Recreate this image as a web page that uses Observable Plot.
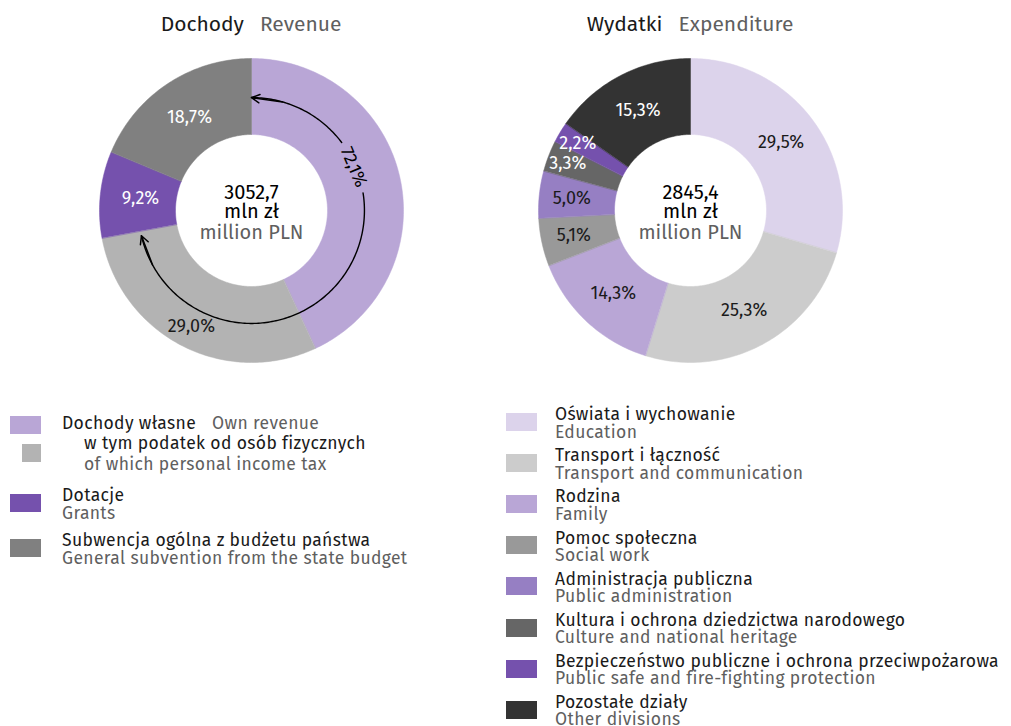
<!DOCTYPE html>
<html><head><meta charset="utf-8">
<script src="https://cdn.jsdelivr.net/npm/d3@7"></script>
<script src="https://cdn.jsdelivr.net/npm/@observablehq/plot@0.6"></script>
<style>
body{margin:0;background:#fff;font-family:"Fira Sans","Open Sans",sans-serif;color:#1a1a1a;}
#root{position:relative;width:1011px;height:726px;overflow:hidden}
.title{position:absolute;top:9px;font-size:21px;white-space:nowrap;transform:translateX(-50%);line-height:30px}
.title .en{color:#5f5f5f;margin-left:16px}
.chart{position:absolute;top:40px}
.sw{position:absolute;height:18px}
.lt{position:absolute;font-size:17.5px;letter-spacing:0.35px;line-height:17.5px;white-space:nowrap}
.en2{color:#5f5f5f}
</style></head><body><div id="root"></div>
<script>
// ---------- DATA ----------
const revenueTitle = ["Dochody", "Revenue"];
const revenueTotal = ["3052,7", "mln zł", "million PLN"];
const revenueCategories = ["Dochody własne (pozostałe)", "w tym podatek od osób fizycznych", "Dotacje", "Subwencja ogólna z budżetu państwa"];
const revenueValues = [43.1, 29.0, 9.2, 18.7];
const revenueLabels = ["", "29,0%", "9,2%", "18,7%"];
const revenueColors = ["#b9a6d6", "#b3b3b3", "#7551ad", "#808080"];
const revenueTextColors = ["#1a1a1a", "#1a1a1a", "#ffffff", "#ffffff"];
const ownRevenueShare = 72.1;
const ownRevenueLabel = "72,1%";

const expenditureTitle = ["Wydatki", "Expenditure"];
const expenditureTotal = ["2845,4", "mln zł", "million PLN"];
const expenditureCategories = ["Oświata i wychowanie", "Transport i łączność", "Rodzina", "Pomoc społeczna", "Administracja publiczna", "Kultura i ochrona dziedzictwa narodowego", "Bezpieczeństwo publiczne i ochrona przeciwpożarowa", "Pozostałe działy"];
const expenditureCategoriesEn = ["Education", "Transport and communication", "Family", "Social work", "Public administration", "Culture and national heritage", "Public safe and fire-fighting protection", "Other divisions"];
const expenditureValues = [29.5, 25.3, 14.3, 5.1, 5.0, 3.3, 2.2, 15.3];
const expenditureLabels = ["29,5%", "25,3%", "14,3%", "5,1%", "5,0%", "3,3%", "2,2%", "15,3%"];
const expenditureColors = ["#dcd3eb", "#cccccc", "#b9a6d6", "#999999", "#967fc3", "#666666", "#7551ad", "#333333"];
const expenditureTextColors = ["#1a1a1a", "#1a1a1a", "#1a1a1a", "#1a1a1a", "#1a1a1a", "#ffffff", "#ffffff", "#ffffff"];

const revenueLegend = [
  {pl: "Dochody własne", en: "Own revenue", color: revenueColors[0], kind: "main-inline"},
  {pl: "w tym podatek od osób fizycznych", en: "of which personal income tax", color: revenueColors[1], kind: "sub"},
  {pl: "Dotacje", en: "Grants", color: revenueColors[2], kind: "main"},
  {pl: "Subwencja ogólna z budżetu państwa", en: "General subvention from the state budget", color: revenueColors[3], kind: "main"}
];

// ---------- GEOMETRY HELPERS ----------
const R_OUT = 1, R_IN = 0.5, R_ARROW = 0.743;
const L = 170 / 152;
const rad = Math.PI / 180;
const FONT = '"Fira Sans","Open Sans",sans-serif';

function slicePolygons(values, colors) {
  const arcs = d3.pie().sort(null).value(d => d)(values);
  const pts = [];
  arcs.forEach((a, i) => {
    const n = Math.max(8, Math.ceil((a.endAngle - a.startAngle) / (Math.PI / 180)));
    for (let k = 0; k <= n; k++) {
      const t = a.startAngle + (a.endAngle - a.startAngle) * k / n;
      pts.push({i, color: colors[i], x: R_OUT * Math.sin(t), y: R_OUT * Math.cos(t)});
    }
    for (let k = n; k >= 0; k--) {
      const t = a.startAngle + (a.endAngle - a.startAngle) * k / n;
      pts.push({i, color: colors[i], x: R_IN * Math.sin(t), y: R_IN * Math.cos(t)});
    }
  });
  return {arcs, pts};
}

function sliceLabels(arcs, labels, textColors, radiusFor) {
  return arcs.map((a, i) => {
    const m = (a.startAngle + a.endAngle) / 2;
    const r = radiusFor(i, a.data);
    return {text: labels[i], fill: textColors[i], x: r * Math.sin(m), y: r * Math.cos(m)};
  }).filter(d => d.text);
}

function arcLine(a0, a1, r) {
  const n = Math.max(4, Math.ceil(Math.abs(a1 - a0)));
  return d3.range(n + 1).map(k => {
    const t = (a0 + (a1 - a0) * k / n) * rad;
    return {x: r * Math.sin(t), y: r * Math.cos(t)};
  });
}

function centerMarks(lines) {
  return [
    Plot.text([0], {x: () => 0, y: () => 0, text: () => lines[0], dy: -18, fontSize: 20, fill: "#000"}),
    Plot.text([0], {x: () => 0, y: () => 0, text: () => lines[1], dy: 1, fontSize: 20, fill: "#000"}),
    Plot.text([0], {x: () => 0, y: () => 0, text: () => lines[2], dy: 22, fontSize: 20, fill: "#5f5f5f"})
  ];
}

function donut(values, colors, labels, textColors, radiusFor, totals, extra = []) {
  const {arcs, pts} = slicePolygons(values, colors);
  return Plot.plot({
    width: 340, height: 340, margin: 0,
    x: {domain: [-L, L], axis: null},
    y: {domain: [-L, L], axis: null},
    color: {type: "identity"},
    style: {fontFamily: FONT, background: "transparent"},
    marks: [
      Plot.line(pts, {x: "x", y: "y", z: "i", fill: "color", stroke: "color", strokeWidth: 0.5, curve: "linear-closed"}),
      Plot.text(sliceLabels(arcs, labels, textColors, radiusFor), {x: "x", y: "y", text: "text", fill: "fill", fontSize: 18}),
      ...extra,
      ...centerMarks(totals)
    ]
  });
}

// ---------- BUILD ----------
const root = document.getElementById("root");

function addTitle(words, cx) {
  const t = document.createElement("div");
  t.className = "title";
  t.style.left = cx + "px";
  t.innerHTML = `<span>${words[0]}</span><span class="en">${words[1]}</span>`;
  root.appendChild(t);
}

// Revenue arrow (own revenue share) with gap for label
const ownEnd = ownRevenueShare * 3.6;
const labelAngle = 67, gapHalf = 14;
const tipEnd = ownEnd - 2.5;
const arrowA = arcLine(0, labelAngle - gapHalf, R_ARROW);
const arrowB = arcLine(labelAngle + gapHalf, tipEnd, R_ARROW);
const pt = (a) => ({x: R_ARROW * Math.sin(a * rad), y: R_ARROW * Math.cos(a * rad)});
const heads = [
  {from: pt(16), to: pt(0)},
  {from: pt(tipEnd - 16), to: pt(tipEnd)}
];
const revExtra = [
  Plot.line(arrowA, {x: "x", y: "y", stroke: "#000", strokeWidth: 1.4}),
  Plot.line(arrowB, {x: "x", y: "y", stroke: "#000", strokeWidth: 1.4}),
  Plot.arrow(heads, {x1: d => d.from.x, y1: d => d.from.y, x2: d => d.to.x, y2: d => d.to.y, stroke: "#000", strokeWidth: 1.5, headLength: 9, headAngle: 55, strokeOpacity: 1}),
  Plot.text([ownRevenueLabel], {x: () => R_ARROW * 0.985 * Math.sin(labelAngle * rad), y: () => R_ARROW * 0.985 * Math.cos(labelAngle * rad), text: d => d, rotate: labelAngle, fontSize: 18, fill: "#000"})
];

addTitle(revenueTitle, 251);
const rev = donut(revenueValues, revenueColors, revenueLabels, revenueTextColors,
  (i) => i === 1 ? 0.86 : 0.735, revenueTotal, revExtra);
rev.classList.add("chart"); rev.style.left = "81px";
root.appendChild(rev);

addTitle(expenditureTitle, 690);
const exp = donut(expenditureValues, expenditureColors, expenditureLabels, expenditureTextColors,
  (i, v) => v < 4 ? 0.865 : (v < 6 ? 0.785 : 0.745), expenditureTotal);
exp.classList.add("chart"); exp.style.left = "520px";
root.appendChild(exp);

// ---------- LEGENDS ----------
function sw(x, y, w, color) {
  const d = document.createElement("div");
  d.className = "sw";
  Object.assign(d.style, {left: x + "px", top: y + "px", width: w + "px", background: color});
  root.appendChild(d);
}
function txt(x, y, html) {
  const d = document.createElement("div");
  d.className = "lt";
  Object.assign(d.style, {left: x + "px", top: y + "px"});
  d.innerHTML = html;
  root.appendChild(d);
}

// Revenue legend
const revRows = [416, 444, 494, 539];
revenueLegend.forEach((item, i) => {
  const top = revRows[i];
  if (item.kind === "main-inline") {
    sw(10, top, 31, item.color);
    txt(62, top - 1, `${item.pl}<span class="en2" style="margin-left:16px">${item.en}</span>`);
  } else if (item.kind === "sub") {
    sw(22, top, 19, item.color);
    txt(84, top - 9, item.pl);
    txt(84, top + 12, `<span class="en2">${item.en}</span>`);
  } else {
    sw(10, top, 31, item.color);
    txt(62, top - 7, `${item.pl}<br><span class="en2">${item.en}</span>`);
  }
});

// Expenditure legend
expenditureCategories.forEach((c, i) => {
  const top = 413 + i * 41.1;
  sw(506, top, 31, expenditureColors[i]);
  txt(555, top - 6.8, `${c}<br><span class="en2">${expenditureCategoriesEn[i]}</span>`);
});
</script>
</body></html>
